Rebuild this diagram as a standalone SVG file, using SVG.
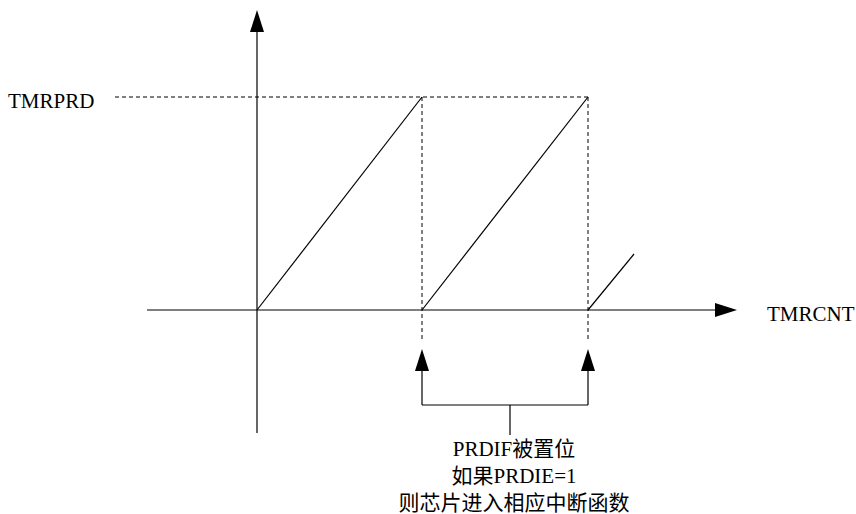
<svg xmlns="http://www.w3.org/2000/svg" width="856" height="514" viewBox="0 0 856 514">
<style>
.ln{stroke:#000;stroke-width:1.2;fill:none}
.ds{stroke:#000;stroke-width:1;fill:none;stroke-dasharray:4,3}
.ah{fill:#000}
text{font-family:"Liberation Serif","Noto Sans CJK SC",serif;font-size:21px;fill:#000}
</style>
<rect width="856" height="514" fill="#fff"/>
<g id="axes">
<line class="ln" x1="257" y1="30" x2="257" y2="433"/>
<polygon class="ah" points="257,10 250,32 264,32"/>
<line class="ln" x1="147" y1="310" x2="717" y2="310"/>
<polygon class="ah" points="737,310 715,303 715,317"/>
</g>
<g id="labels">
<text x="8" y="108">TMRPRD</text>
<text x="767" y="321">TMRCNT</text>
</g>
<g id="connectors">
<line class="ds" x1="115" y1="97" x2="588" y2="97"/>
<line class="ds" x1="422" y1="97" x2="422" y2="340"/>
<line class="ds" x1="588" y1="97" x2="588" y2="340"/>
<line class="ln" x1="257" y1="310" x2="422" y2="97"/>
<line class="ln" x1="422" y1="310" x2="588" y2="97"/>
<line class="ln" x1="588" y1="310" x2="634" y2="254"/>
<line class="ln" x1="422" y1="368" x2="422" y2="405"/>
<line class="ln" x1="588" y1="368" x2="588" y2="405"/>
<polygon class="ah" points="422,349 415,371 429,371"/>
<polygon class="ah" points="588,349 581,371 595,371"/>
<line class="ln" x1="422" y1="405" x2="588" y2="405"/>
<line class="ln" x1="510" y1="405" x2="510" y2="435"/>
</g>
<g id="note">
<text x="514" y="456" text-anchor="middle">PRDIF被置位</text>
<text x="514" y="483" text-anchor="middle">如果PRDIE=1</text>
<text x="514" y="510" text-anchor="middle">则芯片进入相应中断函数</text>
</g>
</svg>
